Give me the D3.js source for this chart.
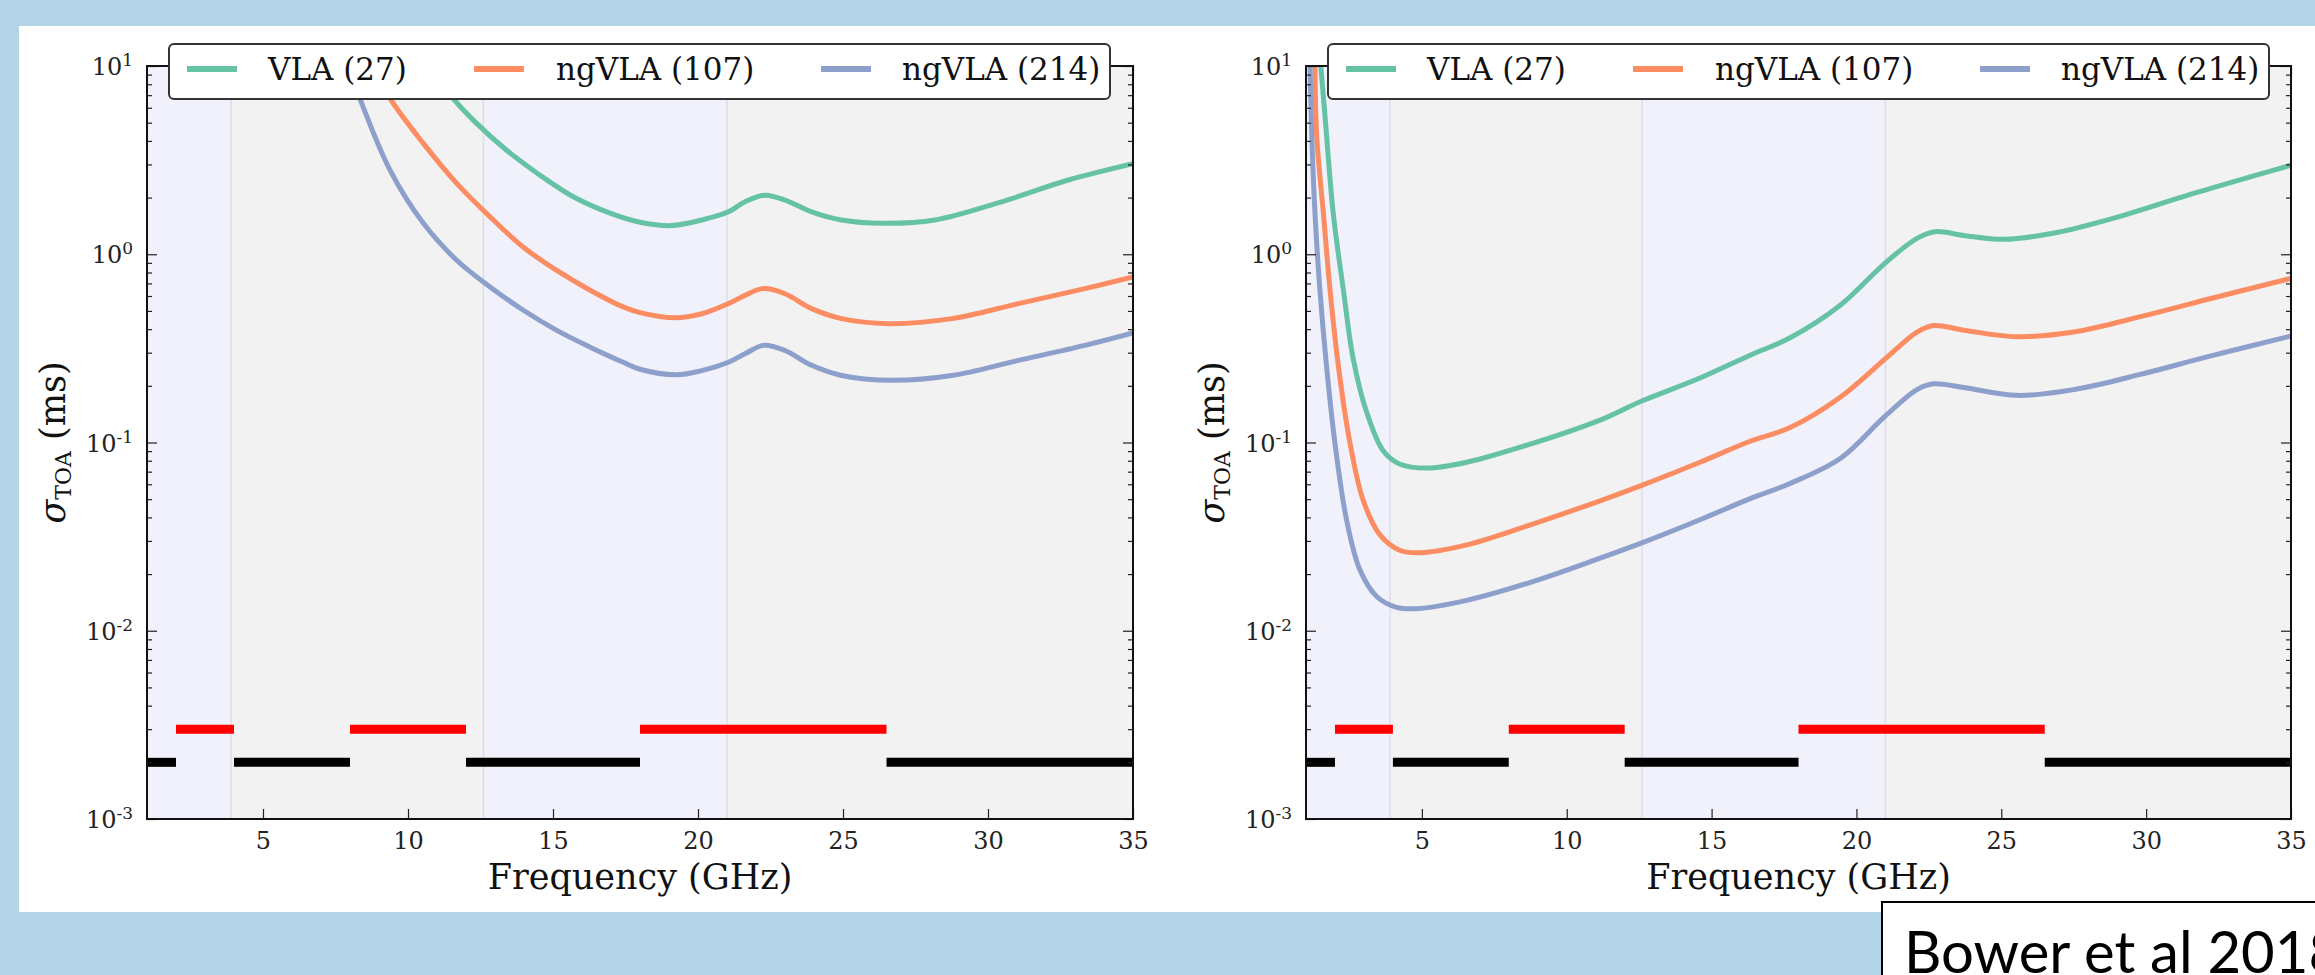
<!DOCTYPE html>
<html lang="en">
<head>
<meta charset="utf-8">
<title>sigma TOA vs frequency</title>
<script src="https://cdn.jsdelivr.net/npm/d3@7"></script>
<style>
  body { margin: 0; background: #b3d3e7; }
  svg { display: block; }
</style>
</head>
<body>
<svg id="fig" width="2315" height="975"></svg>
<script>
// ---- data (frequency in GHz, sigma_TOA in ms) ----
var seriesNames = ["VLA (27)", "ngVLA (107)", "ngVLA (214)"];
var seriesColors = ["#66c2a5", "#fc8d62", "#8da0cb"];

// left panel
var leftVLA27 = [[10.7,10],[11.55,6.73],[12.25,5.16],[13.4,3.57],[14.55,2.63],[15.7,2.02],[16.85,1.68],
  [18.0,1.48],[19.09,1.42],[20.13,1.52],[21.05,1.68],[21.62,1.90],[22.31,2.06],[23.0,1.94],[23.92,1.68],
  [24.95,1.52],[26.33,1.46],[28.17,1.52],[30.47,1.90],[32.77,2.48],[35,3.03]];
var leftNgVLA107 = [[8.8,10],[9.38,6.73],[10.53,3.88],[11.68,2.38],[12.83,1.58],[13.98,1.09],[15.13,0.82],
  [16.28,0.644],[17.42,0.525],[18.0,0.49],[19.2,0.46],[20.13,0.483],[21.05,0.547],[21.62,0.605],[22.25,0.657],
  [23.0,0.617],[23.92,0.514],[24.95,0.455],[26.56,0.428],[28.75,0.455],[31.05,0.547],[33.34,0.657],[35,0.757]];
var leftNgVLA214 = [[7.95,10],[8.34,6.73],[9.38,2.80],[10.53,1.46],[11.68,0.929],[12.83,0.67],[13.98,0.504],
  [15.13,0.394],[16.28,0.321],[17.42,0.267],[18.0,0.245],[19.26,0.229],[20.13,0.241],[21.05,0.267],[21.62,0.296],
  [22.25,0.328],[23.0,0.308],[23.92,0.257],[24.95,0.227],[26.67,0.214],[28.75,0.227],[31.05,0.273],[33.34,0.328],[35,0.382]];

// right panel
var rightVLA27 = [[1.51,10],[1.66,5.33],[1.94,1.65],[2.29,0.646],[2.63,0.278],[3.10,0.144],[3.67,0.0902],
  [4.25,0.0767],[5.17,0.0731],[6.55,0.0785],[8.85,0.0992],[11.15,0.1315],[12.59,0.166],[14.6,0.22],[16.33,0.291],
  [17.71,0.36],[19.44,0.536],[20.99,0.898],[22.09,1.215],[22.72,1.318],[23.7,1.259],[25.08,1.2],[26.92,1.306],
  [29.22,1.61],[31.52,2.08],[33.83,2.64],[35,2.97]];
var rightNgVLA107 = [[1.31,10],[1.37,4.22],[1.60,1.65],[1.83,0.646],[2.12,0.253],[2.52,0.099],[2.98,0.049],
  [3.56,0.0322],[4.25,0.0267],[4.94,0.026],[6.55,0.0286],[8.85,0.037],[11.15,0.049],[12.59,0.0592],[14.6,0.0785],
  [16.33,0.1015],[17.71,0.12],[19.44,0.174],[20.99,0.278],[22.09,0.386],[22.66,0.418],[23.7,0.395],[25.54,0.365],
  [27.5,0.386],[29.8,0.466],[32.1,0.575],[35,0.745]];
var rightNgVLA214 = [[1.14,10],[1.20,4.2],[1.31,1.65],[1.48,0.646],[1.71,0.253],[2.0,0.099],[2.40,0.0388],
  [2.86,0.0211],[3.44,0.0152],[4.13,0.0133],[4.82,0.0131],[6.55,0.0145],[8.85,0.0183],[11.15,0.0243],[12.59,0.0293],
  [14.6,0.0389],[16.33,0.0503],[17.71,0.0606],[19.44,0.0822],[20.99,0.138],[22.09,0.191],[22.66,0.205],[23.7,0.196],
  [25.54,0.178],[27.5,0.191],[29.8,0.23],[32.1,0.285],[35,0.368]];

// shaded frequency bands and the receiver band bars
var bandEdges = [1, 3.9, 12.6, 21, 35];
var bandFills = ["#f1f1fc", "#f2f2f2", "#f1f1fc", "#f2f2f2"];
var redBars = [[2, 4], [8, 12], [18, 26.5]];
var blackBars = [[1, 2], [4, 8], [12, 18], [26.5, 35]];
var redLevel = 3e-3;
var blackLevel = 2e-3;

var xTicks = [5, 10, 15, 20, 25, 30, 35];
var yTickExps = [-3, -2, -1, 0, 1];

// ---- layout ----
var svg = d3.select("#fig");
var plotTop = 66, plotBottom = 819;

svg.append("rect").attr("x", 19).attr("y", 26).attr("width", 2296).attr("height", 886).attr("fill", "#ffffff");

function drawPanel(left, right, curves, clipId) {
  var x = d3.scaleLinear().domain([1, 35]).range([left, right]);
  var y = d3.scaleLog().domain([1e-3, 10]).range([plotBottom, plotTop]);
  var g = svg.append("g");

  svg.append("clipPath").attr("id", clipId)
    .append("rect").attr("x", left).attr("y", plotTop).attr("width", right - left).attr("height", plotBottom - plotTop);

  var plot = g.append("g").attr("clip-path", "url(#" + clipId + ")");

  // background bands
  plot.selectAll("rect.band").data(bandFills).join("rect")
    .attr("class", "band")
    .attr("x", (d, i) => x(bandEdges[i]))
    .attr("width", (d, i) => x(bandEdges[i + 1]) - x(bandEdges[i]))
    .attr("y", plotTop).attr("height", plotBottom - plotTop)
    .attr("fill", d => d);
  plot.selectAll("line.edge").data(bandEdges.slice(1, -1)).join("line")
    .attr("class", "edge")
    .attr("x1", d => x(d)).attr("x2", d => x(d))
    .attr("y1", plotTop).attr("y2", plotBottom)
    .attr("stroke", "#dcdcec").attr("stroke-width", 1.5);

  // band bars
  plot.selectAll("line.red").data(redBars).join("line")
    .attr("class", "red")
    .attr("x1", d => x(d[0])).attr("x2", d => x(d[1]))
    .attr("y1", y(redLevel)).attr("y2", y(redLevel))
    .attr("stroke", "#ff0000").attr("stroke-width", 9);
  plot.selectAll("line.black").data(blackBars).join("line")
    .attr("class", "black")
    .attr("x1", d => x(d[0])).attr("x2", d => x(d[1]))
    .attr("y1", y(blackLevel)).attr("y2", y(blackLevel))
    .attr("stroke", "#000000").attr("stroke-width", 9);

  // curves
  var line = d3.line().x(d => x(d[0])).y(d => y(d[1])).curve(d3.curveCatmullRom.alpha(0.5));
  plot.selectAll("path.curve").data(curves).join("path")
    .attr("class", "curve")
    .attr("d", d => line(d))
    .attr("fill", "none")
    .attr("stroke", (d, i) => seriesColors[i])
    .attr("stroke-width", 5)
    .attr("stroke-linejoin", "round");

  // axes (ticks point inward, on all four sides)
  var minor = [];
  yTickExps.slice(0, -1).forEach(function(e) {
    for (var k = 2; k <= 9; k++) minor.push(k * Math.pow(10, e));
  });
  var majors = yTickExps.map(e => Math.pow(10, e));

  var axes = [
    [d3.axisLeft(y).tickValues(majors).tickSize(-10), "translate(" + left + ",0)"],
    [d3.axisLeft(y).tickValues(minor).tickSize(-5).tickFormat(""), "translate(" + left + ",0)"],
    [d3.axisRight(y).tickValues(majors).tickSize(-10).tickFormat(""), "translate(" + right + ",0)"],
    [d3.axisRight(y).tickValues(minor).tickSize(-5).tickFormat(""), "translate(" + right + ",0)"],
    [d3.axisBottom(x).tickValues(xTicks).tickSize(-10).tickPadding(13), "translate(0," + plotBottom + ")"],
    [d3.axisTop(x).tickValues(xTicks).tickSize(-10).tickFormat(""), "translate(0," + plotTop + ")"]
  ];
  axes.forEach(function(a, i) {
    var ag = g.append("g").attr("transform", a[1]).call(a[0].tickSizeOuter(0));
    ag.select(".domain").remove();
    ag.selectAll("line").attr("stroke", "#222").attr("stroke-width", 1.2);
    ag.selectAll("text").attr("font-family", "DejaVu Serif").attr("font-size", 24).attr("fill", "#222");
    if (i === 0) {
      ag.selectAll(".tick text").each(function(v) {
        var t = d3.select(this).text(null).attr("x", -14).attr("dy", "0.36em");
        t.append("tspan").text("10");
        t.append("tspan").attr("font-size", 17).attr("dy", -9).text(Math.round(Math.log10(v)));
      });
    }
  });

  // spines
  g.append("rect").attr("x", left).attr("y", plotTop).attr("width", right - left).attr("height", plotBottom - plotTop)
    .attr("fill", "none").attr("stroke", "#111").attr("stroke-width", 2);

  // axis labels
  g.append("text")
    .attr("x", (left + right) / 2).attr("y", 889)
    .attr("text-anchor", "middle")
    .attr("font-family", "DejaVu Serif").attr("font-size", 35).attr("fill", "#111")
    .text("Frequency (GHz)");
  var yl = g.append("text")
    .attr("transform", "translate(" + (left - 82) + "," + ((plotTop + plotBottom) / 2) + ") rotate(-90)")
    .attr("text-anchor", "middle")
    .attr("font-family", "DejaVu Serif").attr("font-size", 35).attr("fill", "#111");
  yl.append("tspan").attr("font-style", "italic").text("σ");
  yl.append("tspan").attr("font-size", 22).attr("dy", 6).text("TOA");
  yl.append("tspan").attr("dy", -6).text("  (ms)");

  // legend
  var lx = left + 22, ly = 44;
  var lg = g.append("g");
  lg.append("rect").attr("x", lx).attr("y", ly).attr("width", 941).attr("height", 55).attr("rx", 5)
    .attr("fill", "#ffffff").attr("stroke", "#333").attr("stroke-width", 2);
  var sampleOffsets = [18, 305, 652];
  var textOffsets = [99, 387, 733];
  seriesNames.forEach(function(name, i) {
    lg.append("line")
      .attr("x1", lx + sampleOffsets[i]).attr("x2", lx + sampleOffsets[i] + 50)
      .attr("y1", 69).attr("y2", 69)
      .attr("stroke", seriesColors[i]).attr("stroke-width", 6);
    lg.append("text")
      .attr("x", lx + textOffsets[i]).attr("y", 80)
      .attr("font-family", "DejaVu Serif").attr("font-size", 31).attr("fill", "#111")
      .text(name);
  });
}

drawPanel(147, 1133, [leftVLA27, leftNgVLA107, leftNgVLA214], "clipLeft");
drawPanel(1306, 2291, [rightVLA27, rightNgVLA107, rightNgVLA214], "clipRight");

// citation box
svg.append("rect").attr("x", 1882).attr("y", 902).attr("width", 500).attr("height", 200)
  .attr("fill", "#ffffff").attr("stroke", "#000").attr("stroke-width", 2);
svg.append("text").attr("x", 1904).attr("y", 973)
  .attr("font-family", "Lato").attr("font-size", 58).attr("fill", "#000")
  .text("Bower et al 2018");
</script>
</body>
</html>
